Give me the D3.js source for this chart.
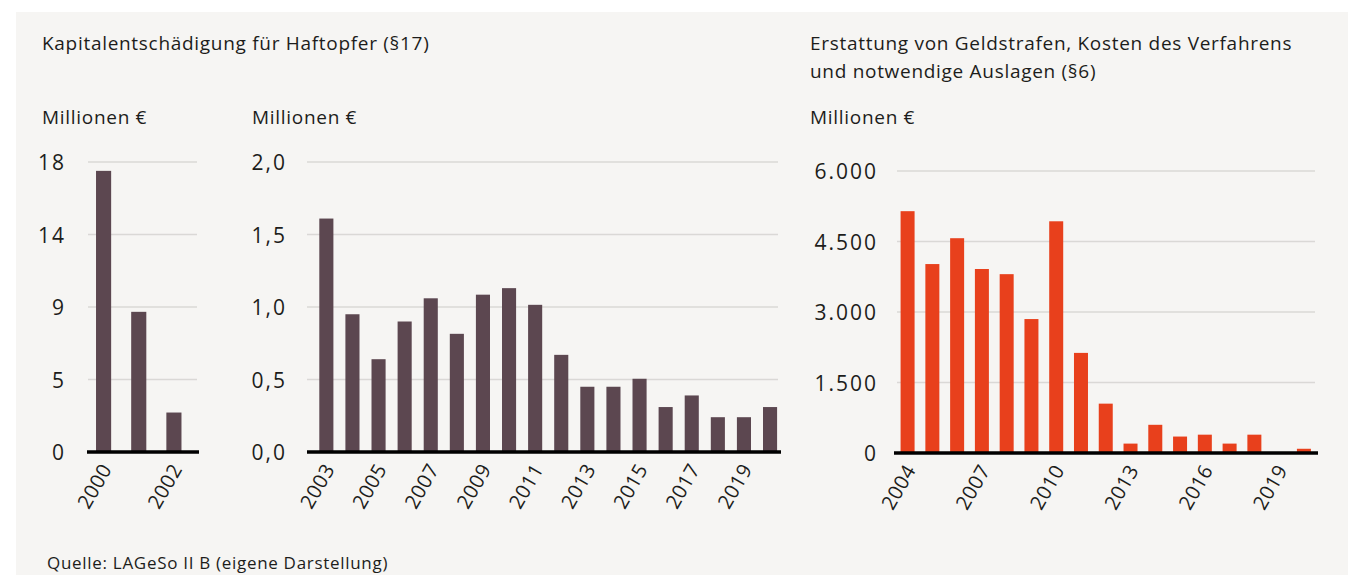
<!DOCTYPE html>
<html>
<head>
<meta charset="utf-8">
<script src="https://cdn.jsdelivr.net/npm/d3@7"></script>
<style>
  body { margin: 0; background: #ffffff; }
  svg text { font-family: "Open Sans", sans-serif; fill: #1d1d1b; }
</style>
</head>
<body>
<div id="chart"></div>
<script>
// data
var yearsA = [2000, 2001, 2002]
var valuesA = [17.45, 8.7, 2.45]          // Mio. €
var ticksA = [0, 4.5, 9, 13.5, 18]
var tickLabelsA = ["0", "5", "9", "14", "18"]
var xLabelsA = [2000, 2002]

var yearsB = [2003, 2004, 2005, 2006, 2007, 2008, 2009, 2010, 2011, 2012, 2013, 2014, 2015, 2016, 2017, 2018, 2019, 2020]
var valuesB = [1.61, 0.95, 0.64, 0.9, 1.06, 0.815, 1.085, 1.13, 1.015, 0.67, 0.45, 0.45, 0.505, 0.31, 0.39, 0.24, 0.24, 0.31]
var ticksB = [0, 0.5, 1, 1.5, 2]
var xLabelsB = [2003, 2005, 2007, 2009, 2011, 2013, 2015, 2017, 2019]

var yearsC = [2004, 2005, 2006, 2007, 2008, 2009, 2010, 2011, 2012, 2013, 2014, 2015, 2016, 2017, 2018, 2019, 2020]
var valuesC = [5145, 4020, 4570, 3915, 3805, 2850, 4930, 2130, 1050, 200, 600, 350, 390, 200, 390, 0, 90]
var ticksC = [0, 1500, 3000, 4500, 6000]
var xLabelsC = [2004, 2007, 2010, 2013, 2016, 2019]

var width = 1355
var height = 575

var de = d3.formatLocale({ decimal: ",", thousands: ".", grouping: [3], currency: ["", " €"] })

var svg = d3.select("#chart")
    .append("svg")
    .attr("width", width)
    .attr("height", height)

// light panel behind everything
svg.append("rect")
    .attr("x", 16).attr("y", 12)
    .attr("width", 1332).attr("height", height - 12)
    .attr("fill", "#f6f5f3")

function barChart(opt) {
    var x = d3.scaleBand()
        .domain(opt.years)
        .range(opt.xRange)
        .paddingInner(opt.pad)
        .paddingOuter(opt.pad / 2)

    var y = d3.scaleLinear()
        .domain([0, opt.max])
        .range(opt.yRange)

    var g = svg.append("g")

    // gridlines
    g.selectAll(".grid")
        .data(opt.ticks.slice(1))
        .enter()
        .append("line")
        .attr("x1", opt.grid[0]).attr("x2", opt.grid[1])
        .attr("y1", function(d) { return y(d) })
        .attr("y2", function(d) { return y(d) })
        .attr("stroke", "#dad8d6")
        .attr("stroke-width", 1.5)

    // y axis labels (no domain line, no tick marks)
    var yAxis = d3.axisLeft(y)
        .tickValues(opt.ticks)
        .tickSize(0)
        .tickFormat(opt.format)
    g.append("g")
        .attr("transform", "translate(" + (opt.labelX + 2) + ",0)")
        .call(yAxis)
        .call(function(a) { a.select(".domain").remove() })
        .selectAll("text")
        .attr("x", 0)
        .attr("dy", "0.36em")
        .style("font-size", "21px")
        .style("letter-spacing", "2px")
        .style("font-family", "'Open Sans', sans-serif")
        .attr("fill", "#1d1d1b")

    // bars
    g.selectAll(".bar")
        .data(opt.values)
        .enter()
        .append("rect")
        .attr("x", function(d, i) { return x(opt.years[i]) })
        .attr("width", x.bandwidth())
        .attr("y", function(d) { return y(d) })
        .attr("height", function(d) { return y(0) - y(d) })
        .attr("fill", opt.color)

    // baseline
    g.append("line")
        .attr("x1", opt.base[0]).attr("x2", opt.base[1])
        .attr("y1", y(0)).attr("y2", y(0))
        .attr("stroke", "#000")
        .attr("stroke-width", 3.5)

    // rotated year labels
    var xAxis = d3.axisBottom(x)
        .tickValues(opt.xLabels)
        .tickSize(0)
    g.append("g")
        .attr("transform", "translate(0," + y(0) + ")")
        .call(xAxis)
        .call(function(a) { a.select(".domain").remove() })
        .selectAll("text")
        .attr("x", 0).attr("y", 0).attr("dy", 0)
        .attr("text-anchor", "end")
        .attr("transform", "translate(9,17) rotate(-60)")
        .style("font-size", "20px")
        .style("letter-spacing", "0.5px")
        .style("font-family", "'Open Sans', sans-serif")
        .attr("fill", "#1d1d1b")
}

barChart({
    years: yearsA, values: valuesA, max: 18, ticks: ticksA,
    format: function(d, i) { return tickLabelsA[i] },
    xLabels: xLabelsA, xRange: [86, 191.5], pad: 0.57,
    yRange: [452, 162], grid: [88, 197], base: [87, 199], labelX: 64,
    color: "#5c4750"
})

barChart({
    years: yearsB, values: valuesB, max: 2, ticks: ticksB,
    format: de.format(".1f"),
    xLabels: xLabelsB, xRange: [313.3, 783.1], pad: 0.46,
    yRange: [452, 162], grid: [307, 778], base: [307, 781], labelX: 285,
    color: "#5c4750"
})

barChart({
    years: yearsC, values: valuesC, max: 6000, ticks: ticksC,
    format: de.format(",.0f"),
    xLabels: xLabelsC, xRange: [895.2, 1316.3], pad: 0.435,
    yRange: [453, 171], grid: [897, 1315], base: [894, 1318], labelX: 876,
    color: "#e8401c"
})

// titles and units
var texts = [
    { t: "Kapitalentschädigung für Haftopfer (§17)", x: 42, y: 50 },
    { t: "Millionen €", x: 42, y: 124 },
    { t: "Millionen €", x: 252, y: 124 },
    { t: "Erstattung von Geldstrafen, Kosten des Verfahrens", x: 810, y: 50 },
    { t: "und notwendige Auslagen (§6)", x: 810, y: 78 },
    { t: "Millionen €", x: 810, y: 124 },
    { t: "Quelle: LAGeSo II B (eigene Darstellung)", x: 47, y: 569, s: 17 }
]
svg.selectAll(".label")
    .data(texts)
    .enter()
    .append("text")
    .attr("x", function(d) { return d.x })
    .attr("y", function(d) { return d.y })
    .style("font-size", function(d) { return (d.s || 19) + "px" })
    .style("letter-spacing", "0.7px")
    .text(function(d) { return d.t })
</script>
</body>
</html>
